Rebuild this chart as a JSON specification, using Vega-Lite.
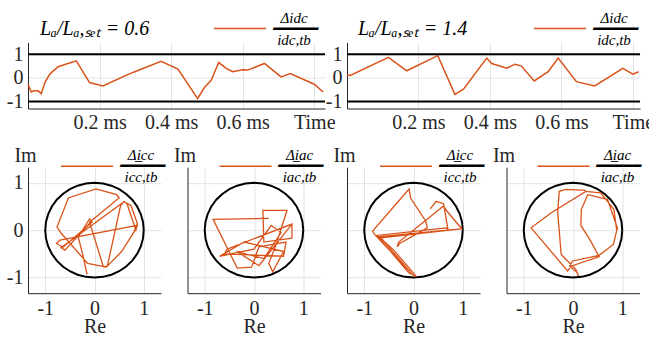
{
  "$schema": "https://vega.github.io/schema/vega-lite/v6.json",
  "background": "white",
  "padding": {"left": 6, "top": 1.5, "right": 0, "bottom": 0},
  "bounds": "flush",
  "spacing": 124.7,
  "resolve": {"scale": {"color": "independent"}, "legend": {"color": "independent"}},
  "config": {
    "view": {"stroke": null},
    "font": "Liberation Serif",
    "axis": {
      "domainColor": "#262626", "domainWidth": 1, "gridColor": "#e3e3e3", "gridWidth": 1,
      "ticks": false, "labelPadding": 5, "labelFont": "Liberation Serif", "labelFontSize": 20,
      "labelColor": "#262626", "titleFont": "Liberation Serif", "titleFontSize": 20,
      "titleFontWeight": "normal", "titleColor": "#262626", "labelFlush": false, "labelOverlap": false, "tickCount": 10
    },
    "legend": {
      "orient": "none", "symbolType": "stroke", "symbolStrokeWidth": 1.5, "symbolSize": 2704,
      "labelFont": "Liberation Serif", "labelFontSize": 15, "labelFontStyle": "italic",
      "labelColor": "black", "labelAlign": "center", "labelOffset": 27, "labelLimit": 300, "padding": 0
    },
    "title": {"font": "Liberation Serif", "fontSize": 20, "fontStyle": "italic", "fontWeight": "normal", "anchor": "start", "frame": "group", "color": "black", "baseline": "alphabetic"}
  },
  "datasets": {
    "bounds": [{"v": 1}, {"v": -1}],
    "dc06": [
      {"t": 0, "v": -0.27}, {"t": 0.009, "v": -0.6}, {"t": 0.016, "v": -0.55}, {"t": 0.028, "v": -0.55},
      {"t": 0.037, "v": -0.67}, {"t": 0.047, "v": -0.2}, {"t": 0.061, "v": 0.16}, {"t": 0.084, "v": 0.47},
      {"t": 0.135, "v": 0.72}, {"t": 0.172, "v": -0.2}, {"t": 0.209, "v": -0.34}, {"t": 0.293, "v": 0.23},
      {"t": 0.372, "v": 0.7}, {"t": 0.419, "v": 0.37}, {"t": 0.474, "v": -0.88}, {"t": 0.493, "v": -0.41},
      {"t": 0.512, "v": -0.1}, {"t": 0.533, "v": 0.65}, {"t": 0.554, "v": 0.4}, {"t": 0.572, "v": 0.26},
      {"t": 0.6, "v": 0.34}, {"t": 0.614, "v": 0.33}, {"t": 0.661, "v": 0.61}, {"t": 0.707, "v": 0.04},
      {"t": 0.733, "v": 0.18}, {"t": 0.8, "v": -0.27}, {"t": 0.825, "v": -0.6}
    ],
    "dc14": [
      {"t": 0, "v": 0.13}, {"t": 0.009, "v": 0.1}, {"t": 0.116, "v": 0.87}, {"t": 0.167, "v": 0.3},
      {"t": 0.254, "v": 0.94}, {"t": 0.302, "v": -0.7}, {"t": 0.326, "v": -0.48}, {"t": 0.391, "v": 0.84},
      {"t": 0.405, "v": 0.61}, {"t": 0.447, "v": 0.41}, {"t": 0.47, "v": 0.58}, {"t": 0.488, "v": 0.5},
      {"t": 0.524, "v": -0.13}, {"t": 0.563, "v": 0.26}, {"t": 0.591, "v": 0.84}, {"t": 0.642, "v": -0.16},
      {"t": 0.693, "v": -0.34}, {"t": 0.772, "v": 0.4}, {"t": 0.8, "v": 0.16}, {"t": 0.816, "v": 0.26}
    ],
    "circle": [
      {"k": 0, "re": 1, "im": 0}, {"k": 1, "re": 0.985, "im": 0.174}, {"k": 2, "re": 0.94, "im": 0.342},
      {"k": 3, "re": 0.866, "im": 0.5}, {"k": 4, "re": 0.766, "im": 0.643}, {"k": 5, "re": 0.643, "im": 0.766},
      {"k": 6, "re": 0.5, "im": 0.866}, {"k": 7, "re": 0.342, "im": 0.94}, {"k": 8, "re": 0.174, "im": 0.985},
      {"k": 9, "re": 0, "im": 1}, {"k": 10, "re": -0.174, "im": 0.985}, {"k": 11, "re": -0.342, "im": 0.94},
      {"k": 12, "re": -0.5, "im": 0.866}, {"k": 13, "re": -0.643, "im": 0.766}, {"k": 14, "re": -0.766, "im": 0.643},
      {"k": 15, "re": -0.866, "im": 0.5}, {"k": 16, "re": -0.94, "im": 0.342}, {"k": 17, "re": -0.985, "im": 0.174},
      {"k": 18, "re": -1, "im": 0}, {"k": 19, "re": -0.985, "im": -0.174}, {"k": 20, "re": -0.94, "im": -0.342},
      {"k": 21, "re": -0.866, "im": -0.5}, {"k": 22, "re": -0.766, "im": -0.643}, {"k": 23, "re": -0.643, "im": -0.766},
      {"k": 24, "re": -0.5, "im": -0.866}, {"k": 25, "re": -0.342, "im": -0.94}, {"k": 26, "re": -0.174, "im": -0.985},
      {"k": 27, "re": 0, "im": -1}, {"k": 28, "re": 0.174, "im": -0.985}, {"k": 29, "re": 0.342, "im": -0.94},
      {"k": 30, "re": 0.5, "im": -0.866}, {"k": 31, "re": 0.643, "im": -0.766}, {"k": 32, "re": 0.766, "im": -0.643},
      {"k": 33, "re": 0.866, "im": -0.5}, {"k": 34, "re": 0.94, "im": -0.342}, {"k": 35, "re": 0.985, "im": -0.174},
      {"k": 36, "re": 1, "im": 0}
    ],
    "cc06": [
      {"k": 1, "re": -0.15, "im": -0.93}, {"k": 2, "re": -0.24, "im": -0.51}, {"k": 3, "re": -0.33, "im": -0.14},
      {"k": 4, "re": -0.1, "im": 0.24}, {"k": 5, "re": -0.05, "im": 0.17}, {"k": 6, "re": -0.64, "im": -0.36},
      {"k": 7, "re": -0.77, "im": -0.28}, {"k": 8, "re": -0.7, "im": -0.21}, {"k": 9, "re": 0.87, "im": 0.1},
      {"k": 10, "re": 0.84, "im": 0}, {"k": 11, "re": 0.66, "im": 0.56}, {"k": 12, "re": 0.6, "im": 0.61},
      {"k": 13, "re": 0.53, "im": 0.52}, {"k": 14, "re": 0.26, "im": -0.76}, {"k": 15, "re": 0.18, "im": -0.77},
      {"k": 16, "re": -0.1, "im": 0.17}, {"k": 17, "re": 0.5, "im": 0.68}, {"k": 18, "re": 0.45, "im": 0.75},
      {"k": 19, "re": 0.03, "im": 0.87}, {"k": 20, "re": -0.53, "im": 0.68}, {"k": 21, "re": -0.76, "im": 0.07},
      {"k": 22, "re": -0.68, "im": -0.06}, {"k": 23, "re": -0.14, "im": -0.7}, {"k": 24, "re": 0.24, "im": -0.78},
      {"k": 25, "re": 0.55, "im": -0.45}, {"k": 26, "re": 0.8, "im": -0.04}, {"k": 27, "re": 0.87, "im": 0.14},
      {"k": 28, "re": 0.74, "im": 0.52}, {"k": 29, "re": 0.6, "im": 0.6}, {"k": 30, "re": -0.68, "im": -0.37},
      {"k": 31, "re": -0.6, "im": -0.42}, {"k": 32, "re": -0.05, "im": 0.2}
    ],
    "ac06": [
      {"k": 1, "re": 0.3, "im": 0.25}, {"k": 2, "re": -0.83, "im": 0.23}, {"k": 3, "re": -0.34, "im": -0.8},
      {"k": 4, "re": -0.05, "im": -0.78}, {"k": 5, "re": 0.1, "im": -0.35}, {"k": 6, "re": 0.65, "im": -0.25},
      {"k": 7, "re": 0.6, "im": -0.55}, {"k": 8, "re": -0.6, "im": -0.5}, {"k": 9, "re": -0.55, "im": -0.4},
      {"k": 10, "re": 0.77, "im": 0.13}, {"k": 11, "re": 0.77, "im": -0.17}, {"k": 12, "re": 0.2, "im": -0.25},
      {"k": 13, "re": 0.18, "im": 0.42}, {"k": 14, "re": 0.67, "im": 0.42}, {"k": 15, "re": 0.45, "im": -0.3},
      {"k": 16, "re": 0.3, "im": -0.7}, {"k": 17, "re": 0.38, "im": -0.88}, {"k": 18, "re": 0.6, "im": -0.45},
      {"k": 19, "re": -0.2, "im": -0.25}, {"k": 20, "re": -0.7, "im": -0.55}, {"k": 21, "re": 0, "im": -0.4},
      {"k": 22, "re": 0.35, "im": 0.1}, {"k": 23, "re": 0.55, "im": -0.05}, {"k": 24, "re": 0.2, "im": -0.6},
      {"k": 25, "re": -0.35, "im": -0.45}, {"k": 26, "re": 0.1, "im": -0.75}, {"k": 27, "re": 0.75, "im": 0.1}
    ],
    "cc14": [
      {"k": 1, "re": 0.34, "im": 0.45}, {"k": 2, "re": 0.46, "im": 0.61}, {"k": 3, "re": 0.61, "im": 0.56},
      {"k": 4, "re": 0.7, "im": 0.01}, {"k": 5, "re": 0.66, "im": 0.05}, {"k": 6, "re": -0.74, "im": -0.11},
      {"k": 7, "re": -0.09, "im": -0.91}, {"k": 8, "re": -0.03, "im": -0.93}, {"k": 9, "re": -0.66, "im": -0.16},
      {"k": 10, "re": 0.98, "im": 0.03}, {"k": 11, "re": 0.68, "im": 0.4}, {"k": 12, "re": 0.61, "im": 0.51},
      {"k": 13, "re": -0.3, "im": -0.25}, {"k": 14, "re": -0.33, "im": -0.35}, {"k": 15, "re": -0.28, "im": -0.28},
      {"k": 16, "re": 0.28, "im": 0.05}, {"k": 17, "re": 0.25, "im": 0.19}, {"k": 18, "re": -0.06, "im": 0.68},
      {"k": 19, "re": -0.09, "im": 0.87}, {"k": 20, "re": -0.83, "im": -0.02}, {"k": 21, "re": -0.79, "im": -0.09},
      {"k": 22, "re": 0.01, "im": -0.97}, {"k": 23, "re": 0.05, "im": -0.97}, {"k": 24, "re": -0.4, "im": -0.42},
      {"k": 25, "re": -0.7, "im": -0.14}, {"k": 26, "re": 0.68, "im": 0}, {"k": 27, "re": 0.98, "im": 0.03}
    ],
    "ac14": [
      {"k": 1, "re": 0.89, "im": -0.02}, {"k": 2, "re": 0.83, "im": 0.44}, {"k": 3, "re": 0.56, "im": 0.79},
      {"k": 4, "re": 0.26, "im": 0.82}, {"k": 5, "re": -0.44, "im": 0.37}, {"k": 6, "re": -0.85, "im": 0.05},
      {"k": 7, "re": -0.11, "im": -0.86}, {"k": 8, "re": -0.04, "im": -0.76}, {"k": 9, "re": 0.53, "im": -0.56},
      {"k": 10, "re": 0.36, "im": -0.23}, {"k": 11, "re": 0.16, "im": 0.1}, {"k": 12, "re": 0.17, "im": 0.44},
      {"k": 13, "re": 0.3, "im": 0.75}, {"k": 14, "re": 0.7, "im": 0.65}, {"k": 15, "re": 0.9, "im": 0.05},
      {"k": 16, "re": 0.82, "im": -0.3}, {"k": 17, "re": 0.53, "im": -0.53}, {"k": 18, "re": -0.01, "im": -0.65},
      {"k": 19, "re": -0.07, "im": -0.76}, {"k": 20, "re": 0.09, "im": -0.9}, {"k": 21, "re": 0.11, "im": -0.97},
      {"k": 22, "re": 0.06, "im": -0.83}, {"k": 23, "re": -0.24, "im": -0.51}, {"k": 24, "re": -0.31, "im": 0.37},
      {"k": 25, "re": -0.28, "im": 0.82}, {"k": 26, "re": -0.14, "im": 0.86}, {"k": 27, "re": 0.26, "im": 0.84}
    ]
  },
  "vconcat": [
    {
      "bounds": "flush",
      "spacing": 22,
      "resolve": {"scale": {"color": "independent"}, "legend": {"color": "independent"}},
      "hconcat": [
        {
          "width": 297, "height": 66,
          "title": {"text": "Lₐ/Lₐ,ₛₑₜ = 0.6", "dx": 12, "offset": -37.6},
          "layer": [
            {
              "data": {"name": "dc06"},
              "mark": {"type": "line", "strokeWidth": 1.5},
              "encoding": {
                "x": {"field": "t", "type": "quantitative", "scale": {"domain": [0, 0.83], "nice": false, "zero": false},
                      "axis": {"values": [0.2, 0.4, 0.6, 0.8], "tickCount": 10, "title": null, "labelPadding": 4, "labelOverlap": false, "labelExpr": "datum.value > 0.7 ? 'Time' : datum.label + ' ms'",
                               "encode": {"labels": {"update": {"dx": {"signal": "datum.value > 0.7 ? -6 : 0"}}}}}},
                "y": {"field": "v", "type": "quantitative", "scale": {"domain": [-1.3, 1.5], "nice": false, "zero": false},
                      "axis": {"values": [-1, 0, 1], "tickCount": 10, "title": null, "labelOverlap": false, "labelExpr": "datum.value < 0 ? '-' + format(-datum.value, 'd') : format(datum.value, 'd')"}},
                "color": {"datum": "Δidc/idc,tb", "scale": {"range": ["#D95319"]},
                          "legend": {"title": null, "legendX": 185, "legendY": -41, "labelExpr": "['Δidc', '━━━━━', 'idc,tb']",
                                     "encode": {"labels": {"update": {"lineHeight": {"value": 11}, "dy": {"value": -11}}}}}}
              }
            },
            {
              "data": {"name": "bounds"},
              "mark": {"type": "rule", "color": "black", "strokeWidth": 2},
              "encoding": {"y": {"field": "v", "type": "quantitative"}}
            }
          ]
        },
        {
          "width": 293, "height": 66,
          "title": {"text": "Lₐ/Lₐ,ₛₑₜ = 1.4", "dx": 11, "offset": -37.6},
          "layer": [
            {
              "data": {"name": "dc14"},
              "mark": {"type": "line", "strokeWidth": 1.5},
              "encoding": {
                "x": {"field": "t", "type": "quantitative", "scale": {"domain": [0, 0.82], "nice": false, "zero": false},
                      "axis": {"values": [0.2, 0.4, 0.6, 0.8], "tickCount": 10, "title": null, "labelPadding": 4, "labelOverlap": false, "labelExpr": "datum.value > 0.7 ? 'Time' : datum.label + ' ms'",
                               "encode": {"labels": {"update": {"dx": {"signal": "datum.value > 0.7 ? -6 : 0"}}}}}},
                "y": {"field": "v", "type": "quantitative", "scale": {"domain": [-1.3, 1.5], "nice": false, "zero": false},
                      "axis": {"values": [-1, 0, 1], "tickCount": 10, "title": null, "labelOverlap": false, "labelExpr": "datum.value < 0 ? '-' + format(-datum.value, 'd') : format(datum.value, 'd')"}},
                "color": {"datum": "Δidc/idc,tb (1.4)", "scale": {"range": ["#D95319"]},
                          "legend": {"title": null, "legendX": 186, "legendY": -41, "labelExpr": "['Δidc', '━━━━━', 'idc,tb']",
                                     "encode": {"labels": {"update": {"lineHeight": {"value": 11}, "dy": {"value": -11}}}}}}
              }
            },
            {
              "data": {"name": "bounds"},
              "mark": {"type": "rule", "color": "black", "strokeWidth": 2},
              "encoding": {"y": {"field": "v", "type": "quantitative"}}
            }
          ]
        }
      ]
    },
    {
      "bounds": "flush",
      "spacing": 26.5,
      "resolve": {"scale": {"color": "independent"}, "legend": {"color": "independent"}},
      "hconcat": [
        {
          "width": 133, "height": 126,
          "layer": [
            {
              "data": {"name": "circle"},
              "mark": {"type": "line", "color": "black", "strokeWidth": 2},
              "encoding": {
                "x": {"field": "re", "type": "quantitative", "scale": {"domain": [-1.35, 1.35], "nice": false, "zero": false},
                      "axis": {"values": [-1, 0, 1], "tickCount": 10, "title": "Re", "labelOverlap": false, "labelExpr": "datum.value < 0 ? '-' + format(-datum.value, 'd') : format(datum.value, 'd')", "titleY": 33, "titleBaseline": "middle"}},
                "y": {"field": "im", "type": "quantitative", "scale": {"domain": [-1.33, 1.33], "nice": false, "zero": false},
                      "axis": {"values": [-1, 0, 1], "tickCount": 10, "title": "Im", "labelOverlap": false, "titleAngle": 0, "titleX": -3, "titleY": -12, "titleAlign": "center", "titleBaseline": "middle", "labelExpr": "datum.value < 0 ? '-' + format(-datum.value, 'd') : format(datum.value, 'd')"}},
                "order": {"field": "k", "type": "quantitative"}
              }
            },
            {
              "data": {"name": "cc06"},
              "mark": {"type": "line", "strokeWidth": 1.3},
              "encoding": {
                "x": {"field": "re", "type": "quantitative"},
                "y": {"field": "im", "type": "quantitative"},
                "order": {"field": "k", "type": "quantitative"},
                "color": {"datum": "Δicc/icc,tb", "scale": {"range": ["#D95319"]},
                          "legend": {"title": null, "legendX": 32, "legendY": -28, "labelExpr": "['Δi̲cc', '━━━━━', 'icc,tb']",
                                     "encode": {"labels": {"update": {"lineHeight": {"value": 11}, "dy": {"value": -11}}}}}}
              }
            }
          ]
        },
        {
          "width": 133, "height": 126,
          "layer": [
            {
              "data": {"name": "circle"},
              "mark": {"type": "line", "color": "black", "strokeWidth": 2},
              "encoding": {
                "x": {"field": "re", "type": "quantitative", "scale": {"domain": [-1.35, 1.35], "nice": false, "zero": false},
                      "axis": {"values": [-1, 0, 1], "tickCount": 10, "title": "Re", "labelOverlap": false, "labelExpr": "datum.value < 0 ? '-' + format(-datum.value, 'd') : format(datum.value, 'd')", "titleY": 33, "titleBaseline": "middle"}},
                "y": {"field": "im", "type": "quantitative", "scale": {"domain": [-1.33, 1.33], "nice": false, "zero": false},
                      "axis": {"values": [-1, 0, 1], "tickCount": 10, "title": "Im", "labels": false, "titleAngle": 0, "titleX": -3, "titleY": -12, "titleAlign": "center", "titleBaseline": "middle"}},
                "order": {"field": "k", "type": "quantitative"}
              }
            },
            {
              "data": {"name": "ac06"},
              "mark": {"type": "line", "strokeWidth": 1.3},
              "encoding": {
                "x": {"field": "re", "type": "quantitative"},
                "y": {"field": "im", "type": "quantitative"},
                "order": {"field": "k", "type": "quantitative"},
                "color": {"datum": "Δiac/iac,tb", "scale": {"range": ["#D95319"]},
                          "legend": {"title": null, "legendX": 31, "legendY": -28, "labelExpr": "['Δi̲ac', '━━━━━', 'iac,tb']",
                                     "encode": {"labels": {"update": {"lineHeight": {"value": 11}, "dy": {"value": -11}}}}}}
              }
            }
          ]
        },
        {
          "width": 133, "height": 126,
          "layer": [
            {
              "data": {"name": "circle"},
              "mark": {"type": "line", "color": "black", "strokeWidth": 2},
              "encoding": {
                "x": {"field": "re", "type": "quantitative", "scale": {"domain": [-1.35, 1.35], "nice": false, "zero": false},
                      "axis": {"values": [-1, 0, 1], "tickCount": 10, "title": "Re", "labelOverlap": false, "labelExpr": "datum.value < 0 ? '-' + format(-datum.value, 'd') : format(datum.value, 'd')", "titleY": 33, "titleBaseline": "middle"}},
                "y": {"field": "im", "type": "quantitative", "scale": {"domain": [-1.33, 1.33], "nice": false, "zero": false},
                      "axis": {"values": [-1, 0, 1], "tickCount": 10, "title": "Im", "labels": false, "titleAngle": 0, "titleX": -3, "titleY": -12, "titleAlign": "center", "titleBaseline": "middle"}},
                "order": {"field": "k", "type": "quantitative"}
              }
            },
            {
              "data": {"name": "cc14"},
              "mark": {"type": "line", "strokeWidth": 1.3},
              "encoding": {
                "x": {"field": "re", "type": "quantitative"},
                "y": {"field": "im", "type": "quantitative"},
                "order": {"field": "k", "type": "quantitative"},
                "color": {"datum": "Δicc/icc,tb (1.4)", "scale": {"range": ["#D95319"]},
                          "legend": {"title": null, "legendX": 32, "legendY": -28, "labelExpr": "['Δi̲cc', '━━━━━', 'icc,tb']",
                                     "encode": {"labels": {"update": {"lineHeight": {"value": 11}, "dy": {"value": -11}}}}}}
              }
            }
          ]
        },
        {
          "width": 133, "height": 126,
          "layer": [
            {
              "data": {"name": "circle"},
              "mark": {"type": "line", "color": "black", "strokeWidth": 2},
              "encoding": {
                "x": {"field": "re", "type": "quantitative", "scale": {"domain": [-1.35, 1.35], "nice": false, "zero": false},
                      "axis": {"values": [-1, 0, 1], "tickCount": 10, "title": "Re", "labelOverlap": false, "labelExpr": "datum.value < 0 ? '-' + format(-datum.value, 'd') : format(datum.value, 'd')", "titleY": 33, "titleBaseline": "middle"}},
                "y": {"field": "im", "type": "quantitative", "scale": {"domain": [-1.33, 1.33], "nice": false, "zero": false},
                      "axis": {"values": [-1, 0, 1], "tickCount": 10, "title": "Im", "labels": false, "titleAngle": 0, "titleX": -3, "titleY": -12, "titleAlign": "center", "titleBaseline": "middle"}},
                "order": {"field": "k", "type": "quantitative"}
              }
            },
            {
              "data": {"name": "ac14"},
              "mark": {"type": "line", "strokeWidth": 1.3},
              "encoding": {
                "x": {"field": "re", "type": "quantitative"},
                "y": {"field": "im", "type": "quantitative"},
                "order": {"field": "k", "type": "quantitative"},
                "color": {"datum": "Δiac/iac,tb (1.4)", "scale": {"range": ["#D95319"]},
                          "legend": {"title": null, "legendX": 30, "legendY": -28, "labelExpr": "['Δi̲ac', '━━━━━', 'iac,tb']",
                                     "encode": {"labels": {"update": {"lineHeight": {"value": 11}, "dy": {"value": -11}}}}}}
              }
            }
          ]
        }
      ]
    }
  ]
}
